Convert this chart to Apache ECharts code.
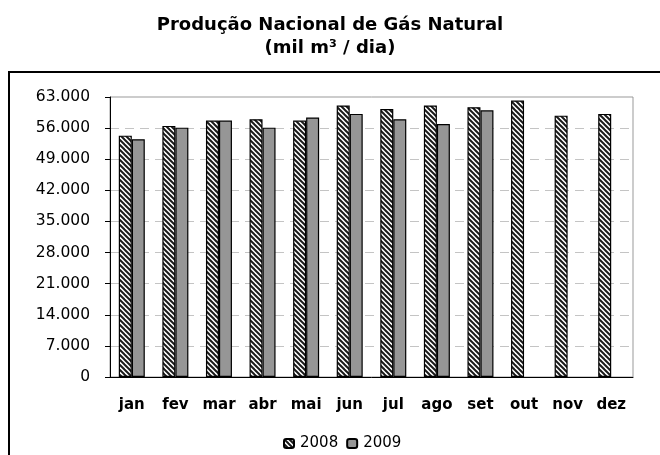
<!DOCTYPE html>
<html>
<head>
<meta charset="utf-8">
<script src="https://cdn.jsdelivr.net/npm/echarts@6/dist/echarts.min.js"></script>
<style>
    html, body { margin: 0; padding: 0; background: #fff; }
    #chart { width: 660px; height: 455px; }
</style>
</head>
<body>
<div id="chart"></div>
<script>
const months = ['jan', 'fev', 'mar', 'abr', 'mai', 'jun', 'jul', 'ago', 'set', 'out', 'nov', 'dez'];
const values2008 = [54300, 56500, 57700, 58000, 57700, 61100, 60300, 61100, 60700, 62200, 58800, 59200];
const values2009 = [53500, 56100, 57700, 56100, 58400, 59200, 58000, 56900, 60000, null, null, null];
const yMax = 63000;
const yStep = 7000;

// hatched fill for 2008
function makeHatch() {
    const s = 5;
    const c = document.createElement('canvas');
    c.width = s;
    c.height = s;
    const ctx = c.getContext('2d');
    ctx.fillStyle = '#fff';
    ctx.fillRect(0, 0, s, s);
    ctx.strokeStyle = '#1a1a1a';
    ctx.lineWidth = 2;
    for (let k = -1; k <= 1; k++) {
        ctx.beginPath();
        ctx.moveTo(k * s - 1, -1);
        ctx.lineTo(k * s + s + 1, s + 1);
        ctx.stroke();
    }
    return c;
}

function fmt(v) {
    return String(v).replace(/\B(?=(\d{3})+(?!\d))/g, '.');
}

const chart = echarts.init(document.getElementById('chart'));
const font = 'DejaVu Sans';

chart.setOption({
    animation: false,
    title: {
        text: 'Produção Nacional de Gás Natural\n(mil m³ / dia)',
        left: 'center',
        top: 9,
        textStyle: {
            fontFamily: font,
            fontWeight: 'bold',
            fontSize: 18,
            lineHeight: 23,
            color: '#000'
        }
    },
    graphic: [{
        type: 'rect',
        shape: { x: 9, y: 72, width: 700, height: 450 },
        style: { fill: 'none', stroke: '#000', lineWidth: 2 },
        silent: true
    }],
    legend: {
        left: 278,
        top: 431,
        itemWidth: 10,
        itemHeight: 9,
        itemGap: 8,
        textStyle: { fontFamily: font, fontSize: 15, color: '#000', padding: [0, 0, 0, 1] },
        data: ['2008', '2009']
    },
    grid: {
        left: 110,
        right: 27,
        top: 97,
        bottom: 78,
        show: true,
        borderColor: '#999',
        borderWidth: 1
    },
    xAxis: {
        type: 'category',
        data: months,
        axisLine: { lineStyle: { color: '#000', width: 1 } },
        axisTick: { alignWithLabel: false, length: 6, lineStyle: { color: '#000' } },
        axisLabel: {
            margin: 21,
            fontFamily: font,
            fontWeight: 'bold',
            fontSize: 15,
            color: '#000'
        }
    },
    yAxis: {
        type: 'value',
        min: 0,
        max: yMax,
        interval: yStep,
        axisLine: { show: true, lineStyle: { color: '#000', width: 1 } },
        axisTick: { show: true, length: 5, lineStyle: { color: '#000' } },
        axisLabel: {
            margin: 20,
            fontFamily: font,
            fontSize: 15.5,
            color: '#000',
            formatter: fmt
        },
        splitLine: {
            show: true,
            showMaxLine: false,
            lineStyle: { color: '#c4c4c4', type: [9, 6], width: 1 }
        }
    },
    series: [{
        name: '2008',
        type: 'bar',
        data: values2008,
        barWidth: 13,
        barGap: '0%',
        itemStyle: {
            color: { image: makeHatch(), repeat: 'repeat' },
            borderColor: '#000',
            borderWidth: 1.2
        }
    }, {
        name: '2009',
        type: 'bar',
        data: values2009,
        barWidth: 13,
        itemStyle: {
            color: '#969696',
            borderColor: '#000',
            borderWidth: 1.2
        }
    }]
});
</script>
</body>
</html>
